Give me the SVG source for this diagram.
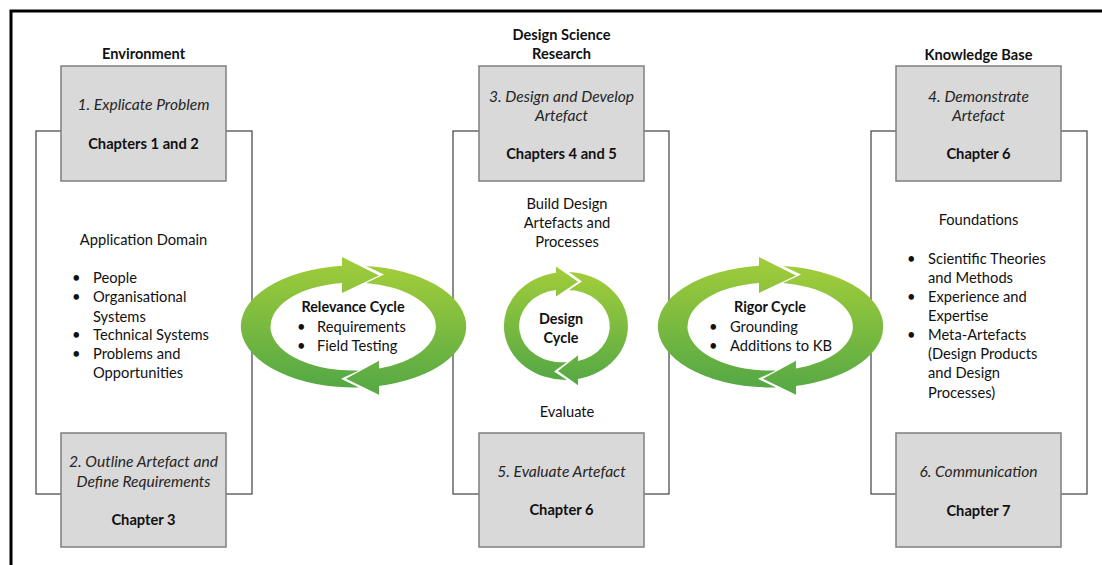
<svg xmlns="http://www.w3.org/2000/svg" width="1102" height="565" viewBox="0 0 1102 565">
  <defs>
    <linearGradient id="ringFill" x1="0" y1="0" x2="0" y2="1">
      <stop offset="0" stop-color="#a2cd3a"/>
      <stop offset="1" stop-color="#54a845"/>
    </linearGradient>
    <style>
      text { font-family: Lato, "Open Sans", "Liberation Sans", sans-serif; fill: #111; }
      .hdr { font-size: 14.6px; font-weight: bold; text-anchor: middle; }
      .step { font-size: 15.6px; font-style: italic; text-anchor: middle; fill: #262626; }
      .chap { font-size: 14.7px; font-weight: bold; text-anchor: middle; }
      .body { font-size: 14.7px; }
      .mid { text-anchor: middle; }
      .cyc { font-size: 14.4px; font-weight: bold; text-anchor: middle; }
      .box { fill: #d9d9d9; stroke: #7f7f7f; stroke-width: 1.5; }
      .frame { fill: none; stroke: #404040; stroke-width: 1.2; }
      .ring { fill: url(#ringFill); }
    </style>
  </defs>

  <rect width="1102" height="565" fill="#ffffff"/>
  <!-- page border -->
  <path d="M11 565 V11 H1102" fill="none" stroke="#000" stroke-width="3"/>

  <!-- column outlines joining the top and bottom step boxes -->
  <g id="connectors">
    <rect class="frame" x="36" y="131" width="216" height="363"/>
    <rect class="frame" x="453" y="131" width="216" height="363"/>
    <rect class="frame" x="871" y="131" width="216" height="363"/>
  </g>

  <!-- Environment column -->
  <g id="environment">
    <text class="hdr" x="143.5" y="59">Environment</text>
    <text class="body mid" x="143.5" y="244.5">Application Domain</text>
    <g class="body">
      <text x="72" y="283">•</text><text x="93" y="283">People</text>
      <text x="72" y="302">•</text><text x="93" y="302">Organisational</text>
      <text x="93" y="321.5">Systems</text>
      <text x="72" y="340">•</text><text x="93" y="340">Technical Systems</text>
      <text x="72" y="359">•</text><text x="93" y="359">Problems and</text>
      <text x="93" y="378">Opportunities</text>
    </g>
  </g>
  <g id="step1">
    <rect class="box" x="61" y="66" width="165" height="115"/>
    <text class="step" x="143.5" y="110">1. Explicate Problem</text>
    <text class="chap" x="143.5" y="148.5">Chapters 1 and 2</text>
  </g>
  <g id="step2">
    <rect class="box" x="61" y="433" width="165" height="114"/>
    <text class="step" x="143.5" y="467">2. Outline Artefact and</text>
    <text class="step" x="143.5" y="487">Define Requirements</text>
    <text class="chap" x="143.5" y="524.5">Chapter 3</text>
  </g>

  <!-- Design Science Research column -->
  <g id="dsr">
    <text class="hdr" x="561.5" y="40">Design Science</text>
    <text class="hdr" x="561.5" y="58.5">Research</text>
    <text class="body mid" x="567" y="209">Build Design</text>
    <text class="body mid" x="567" y="228">Artefacts and</text>
    <text class="body mid" x="567" y="246.5">Processes</text>
    <text class="body mid" x="567" y="416.5">Evaluate</text>
  </g>
  <g id="step3">
    <rect class="box" x="479" y="66" width="165" height="115"/>
    <text class="step" x="561.5" y="101.5">3. Design and Develop</text>
    <text class="step" x="561.5" y="120.5">Artefact</text>
    <text class="chap" x="561.5" y="158.5">Chapters 4 and 5</text>
  </g>
  <g id="step5">
    <rect class="box" x="479" y="433" width="165" height="114"/>
    <text class="step" x="561.5" y="477">5. Evaluate Artefact</text>
    <text class="chap" x="561.5" y="515">Chapter 6</text>
  </g>

  <!-- Knowledge Base column -->
  <g id="knowledge-base">
    <text class="hdr" x="978.5" y="60">Knowledge Base</text>
    <text class="body mid" x="978.5" y="225">Foundations</text>
    <g class="body">
      <text x="907" y="264">•</text><text x="928" y="264">Scientific Theories</text>
      <text x="928" y="283">and Methods</text>
      <text x="907" y="301.5">•</text><text x="928" y="301.5">Experience and</text>
      <text x="928" y="321">Expertise</text>
      <text x="907" y="340">•</text><text x="928" y="340">Meta-Artefacts</text>
      <text x="928" y="359">(Design Products</text>
      <text x="928" y="378">and Design</text>
      <text x="928" y="397.5">Processes)</text>
    </g>
  </g>
  <g id="step4">
    <rect class="box" x="896" y="66" width="165" height="115"/>
    <text class="step" x="978.5" y="102">4. Demonstrate</text>
    <text class="step" x="978.5" y="120.5">Artefact</text>
    <text class="chap" x="978.5" y="158.5">Chapter 6</text>
  </g>
  <g id="step6">
    <rect class="box" x="896" y="433" width="165" height="114"/>
    <text class="step" x="978.5" y="477">6. Communication</text>
    <text class="chap" x="978.5" y="515.5">Chapter 7</text>
  </g>

  <!-- Relevance cycle: two clockwise half-ring arrows -->
  <g id="relevance-cycle">
    <g transform="translate(353.5 326.5)">
      <path class="ring" d="M5.5 60.9 A113 61 0 0 1 -11.5 -60.7 L-11.5 -69.6 L25.5 -51 L-11.5 -33.6 L-11.5 -43.6 A82 44 0 0 0 5.5 43.9 L-12.5 52.3 Z"/>
      <path class="ring" d="M12.5 -60.6 A113 61 0 0 1 25.5 59.4 L25.5 68.2 L-7.5 52.3 L25.5 34.2 L25.5 41.9 A82 44 0 0 0 12.5 -43.5 L30.5 -52 Z"/>
    </g>
    <text class="cyc" x="353" y="312">Relevance Cycle</text>
    <g class="body">
      <text x="297" y="332">•</text><text x="317" y="332">Requirements</text>
      <text x="297" y="350.5">•</text><text x="317" y="350.5">Field Testing</text>
    </g>
  </g>

  <!-- Design cycle -->
  <g id="design-cycle">
    <g transform="translate(566 326)">
      <path class="ring" d="M1 54 A62 54 0 0 1 -10 -53.3 L-10 -59.6 L12 -44.3 L-10 -29.6 L-10 -36 A42 36 0 0 0 1 36 L-12 45.5 Z"/>
      <path class="ring" d="M3 -53.9 A62 54 0 0 1 12 53 L12 59.3 L-8 44.9 L12 29.3 L12 35 A42 36 0 0 0 3 -35.9 L16 -44.4 Z"/>
    </g>
    <text class="cyc" x="561" y="323.5">Design</text>
    <text class="cyc" x="561" y="342.5">Cycle</text>
  </g>

  <!-- Rigor cycle -->
  <g id="rigor-cycle">
    <g transform="translate(770.5 326.5)">
      <path class="ring" d="M5.5 60.9 A113 61 0 0 1 -11.5 -60.7 L-11.5 -69.6 L25.5 -51 L-11.5 -33.6 L-11.5 -43.6 A82 44 0 0 0 5.5 43.9 L-12.5 52.3 Z"/>
      <path class="ring" d="M12.5 -60.6 A113 61 0 0 1 25.5 59.4 L25.5 68.2 L-7.5 52.3 L25.5 34.2 L25.5 41.9 A82 44 0 0 0 12.5 -43.5 L30.5 -52 Z"/>
    </g>
    <text class="cyc" x="770" y="312">Rigor Cycle</text>
    <g class="body">
      <text x="709" y="332">•</text><text x="730" y="332">Grounding</text>
      <text x="709" y="350.5">•</text><text x="730" y="350.5">Additions to KB</text>
    </g>
  </g>
</svg>
